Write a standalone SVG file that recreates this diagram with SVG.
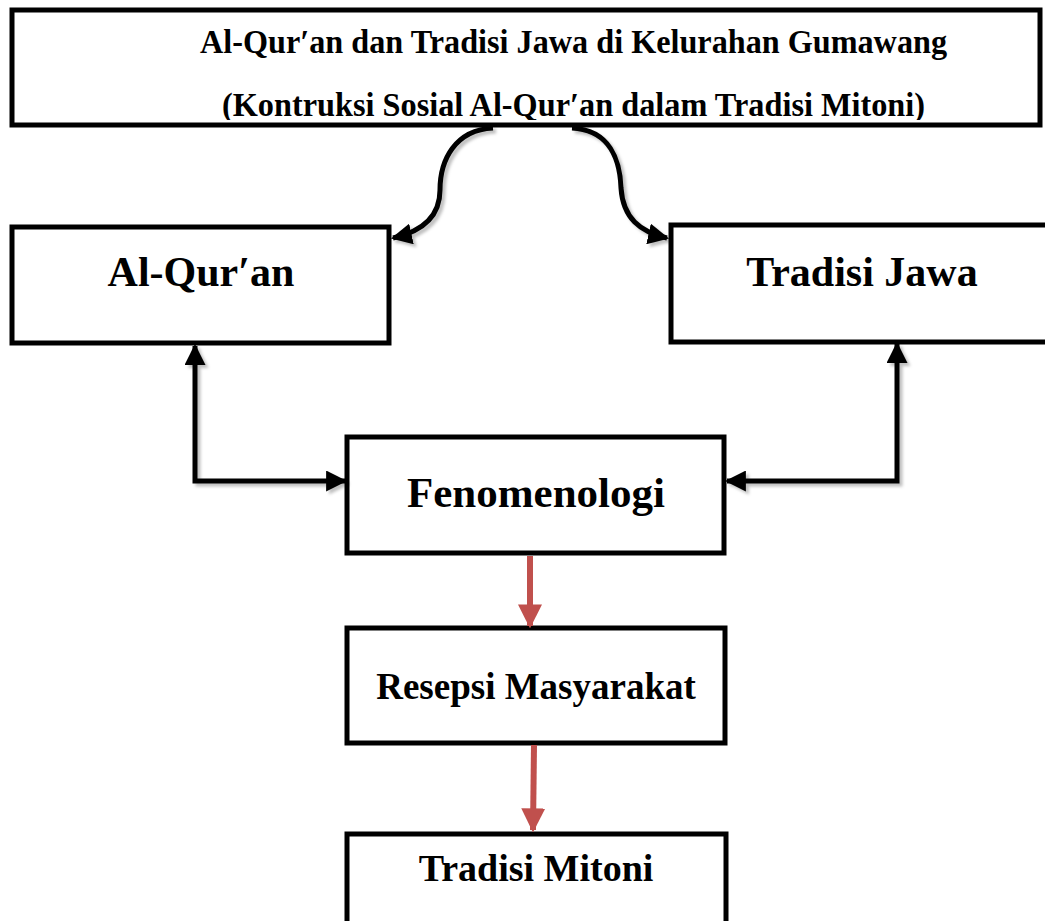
<svg xmlns="http://www.w3.org/2000/svg" width="1045" height="921" viewBox="0 0 1045 921">
<style>
.box{fill:#fff;stroke:#000;stroke-width:5}
.t{font-family:"Liberation Serif","Times New Roman",serif;font-weight:bold;fill:#000}
.c{fill:none;stroke:#000;stroke-width:5}
.r{fill:none;stroke:#c0504d;stroke-width:6}
</style>
<defs>
<marker id="ab" viewBox="0 0 10 10" refX="9" refY="5" markerWidth="4.2" markerHeight="4.2" markerUnits="strokeWidth" orient="auto-start-reverse"><path d="M0,0 L10,5 L0,10 z" fill="#000"/></marker>
<marker id="ar" viewBox="0 0 10 10" refX="9" refY="5" markerWidth="4" markerHeight="4" markerUnits="strokeWidth" orient="auto"><path d="M0,0 L10,5 L0,10 z" fill="#c0504d"/></marker>
<filter id="sh" x="-20%" y="-20%" width="140%" height="140%"><feDropShadow dx="3" dy="3" stdDeviation="1.5" flood-color="#000" flood-opacity="0.25"/></filter>
<clipPath id="clipTop"><rect x="12" y="8" width="1030" height="112"/></clipPath>
</defs>
<g id="node-top">
<rect class="box" x="12" y="10" width="1028" height="115"/>
<g clip-path="url(#clipTop)">
<text class="t" x="200" y="53" font-size="34" textLength="747" lengthAdjust="spacingAndGlyphs">Al-Qur′an dan Tradisi Jawa di Kelurahan Gumawang</text>
<text class="t" x="222" y="116" font-size="34" textLength="703" lengthAdjust="spacingAndGlyphs">(Kontruksi Sosial Al-Qur′an dalam Tradisi Mitoni)</text>
</g>
</g>
<g id="node-quran">
<rect class="box" x="12" y="227" width="377" height="116"/>
<text class="t" x="201" y="286" font-size="42" text-anchor="middle">Al-Qur′an</text>
</g>
<g id="node-jawa">
<rect class="box" x="671" y="225" width="380" height="117"/>
<text class="t" x="862" y="286" font-size="42" text-anchor="middle">Tradisi Jawa</text>
</g>
<g id="node-fenomenologi">
<rect class="box" x="347" y="437" width="377" height="116"/>
<text class="t" x="536" y="507" font-size="43" text-anchor="middle">Fenomenologi</text>
</g>
<g id="node-resepsi">
<rect class="box" x="347" y="628" width="378" height="115"/>
<text class="t" x="536" y="699" font-size="37" text-anchor="middle">Resepsi Masyarakat</text>
</g>
<g id="node-mitoni">
<rect class="box" x="347" y="834" width="379" height="100"/>
<text class="t" x="536" y="881" font-size="38" text-anchor="middle">Tradisi Mitoni</text>
</g>
<g id="connectors">
<path class="c" filter="url(#sh)" d="M493,128 C455,130 440,160 440,190 C440,218 420,232 393,238" marker-end="url(#ab)"/>
<path class="c" filter="url(#sh)" d="M572,128 C610,130 620,160 621,188 C623,218 640,232 667,238" marker-end="url(#ab)"/>
<path class="c" filter="url(#sh)" d="M195,346 L195,481 L345,481" marker-start="url(#ab)" marker-end="url(#ab)"/>
<path class="c" filter="url(#sh)" d="M897,344 L897,481 L727,481" marker-start="url(#ab)" marker-end="url(#ab)"/>
<path class="r" d="M530,556 L530,626" marker-end="url(#ar)"/>
<path class="r" d="M534,745 L533,830" marker-end="url(#ar)"/>
</g>
</svg>
